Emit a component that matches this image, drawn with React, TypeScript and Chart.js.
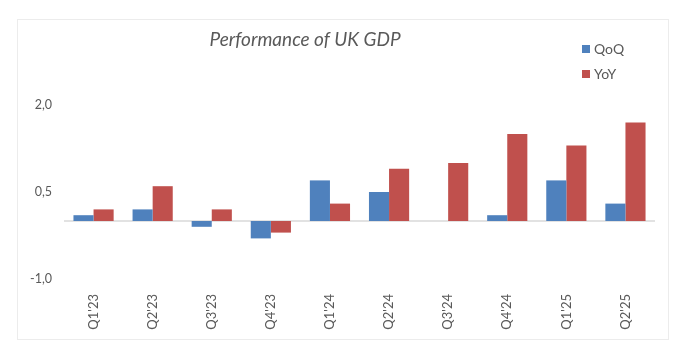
import React, { useEffect, useRef } from "react";
import { Chart, registerables } from "chart.js";

Chart.register(...registerables);

const categories = ["Q1'23", "Q2'23", "Q3'23", "Q4'23", "Q1'24", "Q2'24", "Q3'24", "Q4'24", "Q1'25", "Q2'25"];
const qoq = [0.1, 0.2, -0.1, -0.3, 0.7, 0.5, 0.0, 0.1, 0.7, 0.3];
const yoy = [0.2, 0.6, 0.2, -0.2, 0.3, 0.9, 1.0, 1.5, 1.3, 1.7];
const seriesNames = ["QoQ", "YoY"];
const seriesColors = ["#4F81BD", "#C0504D"];
const chartTitle = "Performance of UK GDP";
const yMin = -1;
const yMax = 2;
const yStep = 1.5;

const FONT = "Lato, 'Open Sans', sans-serif";
const TEXT = "#595959";

const decorPlugin = {
  id: "decor",
  beforeDatasetsDraw(chart: any) {
    const { ctx, chartArea, scales } = chart;
    const y0 = scales.y.getPixelForValue(0);
    ctx.save();
    ctx.strokeStyle = "#d9d9d9";
    ctx.lineWidth = 1.5;
    ctx.beginPath();
    ctx.moveTo(chartArea.left, y0);
    ctx.lineTo(chartArea.right, y0);
    ctx.stroke();
    ctx.restore();
  },
  afterDraw(chart: any) {
    const { ctx } = chart;
    ctx.save();
    ctx.fillStyle = TEXT;
    ctx.font = `italic 19px ${FONT}`;
    ctx.textAlign = "center";
    ctx.textBaseline = "alphabetic";
    ctx.fillText(chartTitle, 287, 26);
    ctx.font = `14px ${FONT}`;
    ctx.textAlign = "left";
    ctx.textBaseline = "middle";
    chart.data.datasets.forEach((ds: any, i: number) => {
      const cy = 29 + i * 25;
      ctx.fillStyle = ds.backgroundColor;
      ctx.fillRect(564, cy - 4, 8, 8);
      ctx.fillStyle = TEXT;
      ctx.fillText(ds.label, 576, cy);
    });
    ctx.restore();
  },
};

export default function App() {
  const ref = useRef<HTMLCanvasElement>(null);
  useEffect(() => {
    if (!ref.current) return;
    const chart = new Chart(ref.current, {
      type: "bar",
      data: {
        labels: categories,
        datasets: [
          { label: seriesNames[0], data: qoq, backgroundColor: seriesColors[0] },
          { label: seriesNames[1], data: yoy, backgroundColor: seriesColors[1] },
        ],
      },
      options: {
        animation: false,
        responsive: false,
        maintainAspectRatio: false,
        layout: { padding: { top: 85, right: 13, left: 0, bottom: 0 } },
        datasets: { bar: { categoryPercentage: 0.68, barPercentage: 1 } } as any,
        plugins: { legend: { display: false }, title: { display: false }, tooltip: { enabled: false } },
        scales: {
          x: {
            grid: { display: false, drawTicks: false },
            border: { display: false },
            ticks: {
              color: TEXT,
              font: { family: FONT, size: 13 },
              minRotation: 90,
              maxRotation: 90,
              padding: 15,
            },
            afterFit: (s: any) => { s.height = 60; },
          },
          y: {
            min: yMin,
            max: yMax,
            grid: { display: false, drawTicks: false },
            border: { display: false },
            ticks: {
              stepSize: yStep,
              color: TEXT,
              font: { family: FONT, size: 12.5 },
              padding: 12,
              callback: (v: any) => Number(v).toFixed(1).replace(".", ","),
            },
            afterFit: (s: any) => { s.width = 46; },
          },
        },
      },
      plugins: [decorPlugin],
    });
    return () => chart.destroy();
  }, []);
  return (
    <div
      style={{
        marginTop: 11,
        marginLeft: 9,
        width: 652,
        height: 321,
        border: "1px solid #ececec",
        boxSizing: "border-box",
      }}
    >
      <canvas ref={ref} width={650} height={319} style={{ display: "block" }} />
    </div>
  );
}
